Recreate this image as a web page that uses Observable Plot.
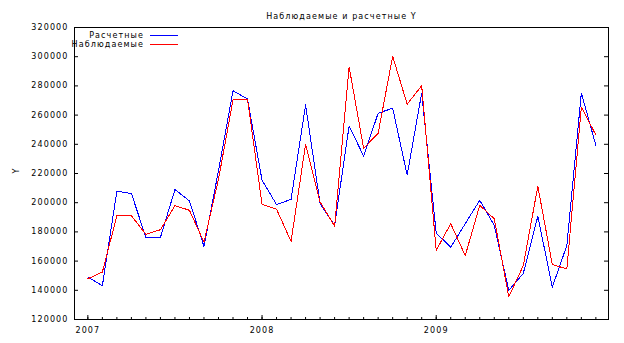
<!DOCTYPE html>
<html><head><meta charset="utf-8">
<script src="https://cdn.jsdelivr.net/npm/d3@7"></script>
<script src="https://cdn.jsdelivr.net/npm/@observablehq/plot@0.6"></script>
<style>
body{margin:0;background:#fff;}
#chart svg{display:block;}
</style></head><body><div id="chart"></div>
<script>
const title = "Наблюдаемые и расчетные Y";
const yLabel = "Y";
const years = ["2007", "2008", "2009"];
const yearPos = [0, 12, 24];
const yTicks = [120000, 140000, 160000, 180000, 200000, 220000, 240000, 260000, 280000, 300000, 320000];
const seriesNames = ["Расчетные", "Наблюдаемые"];
const predicted = [149000, 143200, 207900, 206300, 176200, 176200, 209000, 201200, 170000, 222000, 276700, 271000,
                   215400, 198700, 202300, 267000, 199400, 184500, 252600, 231900, 261300, 264700, 218900, 275100,
                   179200, 169500, 185600, 201700, 184500, 139900, 151600, 190700, 142200, 170700, 275100, 239300];
const observed  = [147900, 152500, 191100, 191100, 178300, 181500, 198000, 194800, 173000, 216000, 270500, 271000,
                   198900, 195500, 173500, 240000, 200500, 184000, 293000, 237200, 247600, 300300, 267500, 280100,
                   167300, 185600, 163800, 198200, 189000, 135600, 156900, 211300, 157600, 154700, 265400, 246400];
const months = predicted.map((_, i) => i);
const rows = months.map(i => ({i, p: predicted[i], o: observed[i]}));

const W = 624, H = 343, mL = 74, mR = 16, mT = 27, mB = 24;
const fw = W - mL - mR, fh = H - mT - mB;

const plot = Plot.plot({
  width: W, height: H,
  marginLeft: mL, marginRight: mR, marginTop: mT, marginBottom: mB,
  style: {fontFamily: "DejaVu Sans", fontSize: "8px", background: "#fff", color: "#000", letterSpacing: "1.1px"},
  x: {type: "linear", domain: [-0.92, 35.87]},
  y: {domain: [120000, 320000]},
  marks: [
    Plot.axisY(yTicks, {tickSize: 0, tickPadding: 6, tickFormat: d3.format("d"), label: null}),
    Plot.axisX(yearPos, {tickSize: 0, tickPadding: 8, tickFormat: d => years[yearPos.indexOf(d)], label: null}),
    Plot.tickY(yTicks, {insetRight: fw - 4, stroke: "#000"}),
    Plot.tickY(yTicks, {insetLeft: fw - 4, stroke: "#000"}),
    Plot.tickX(months, {insetTop: fh - 2, stroke: "#000"}),
    Plot.tickX(yearPos, {insetTop: fh - 4, stroke: "#000"}),
    Plot.line(rows, {x: "i", y: "p", stroke: "#0000ff", strokeWidth: 1, shapeRendering: "crispEdges"}),
    Plot.line(rows, {x: "i", y: "o", stroke: "#ff0000", strokeWidth: 1, shapeRendering: "crispEdges"}),
    Plot.frame({stroke: "#000"}),
    Plot.text([yLabel], {frameAnchor: "left", dx: -58, rotate: -90, text: d => d, lineAnchor: "middle"}),
    Plot.text([title], {frameAnchor: "top", dy: -11, text: d => d, lineAnchor: "middle"})
  ]
});

const svg = d3.select(plot);
const lg = svg.append("g").attr("font-family", "DejaVu Sans").attr("font-size", 8).attr("letter-spacing", "1.1px");
const legendColors = ["#0000ff", "#ff0000"];
const legendY = [35.5, 44.5];
seriesNames.forEach((name, k) => {
  lg.append("text").attr("x", 144).attr("y", legendY[k]).attr("dy", "0.32em").attr("text-anchor", "end").text(name);
  lg.append("line").attr("x1", 150).attr("x2", 178).attr("y1", legendY[k]).attr("y2", legendY[k])
    .attr("stroke", legendColors[k]).attr("stroke-width", 1).attr("shape-rendering", "crispEdges");
});
document.getElementById("chart").appendChild(plot);
</script></body></html>
